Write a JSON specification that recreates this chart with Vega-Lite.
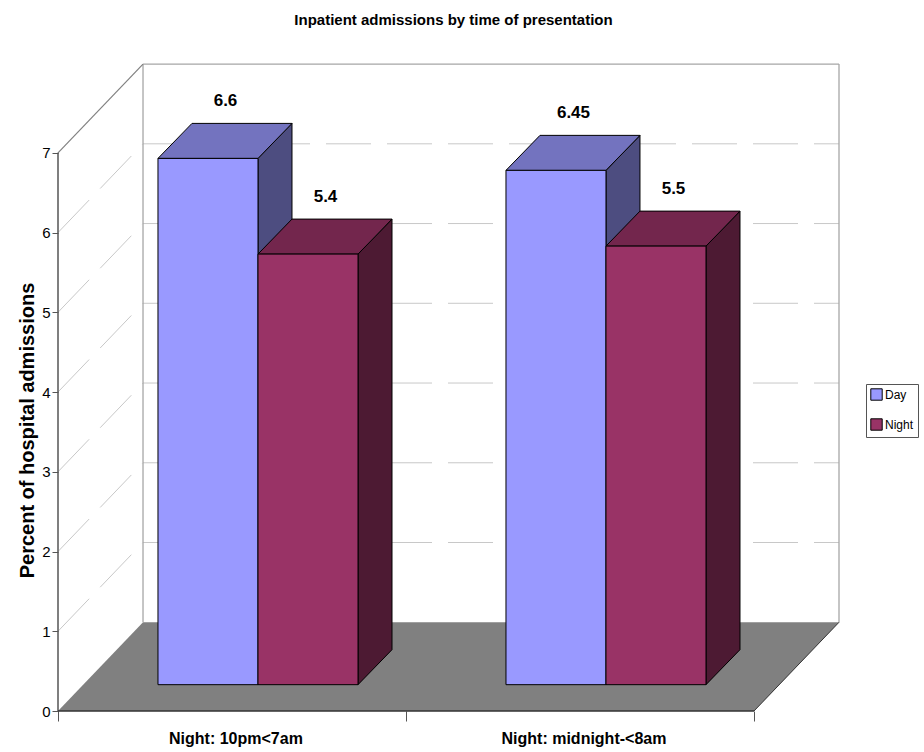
{
  "$schema": "https://vega.github.io/schema/vega-lite/v6.json",
  "description": "Inpatient admissions by time of presentation, drawn as an oblique 3D column chart.",
  "width": 781,
  "height": 647,
  "autosize": "none",
  "padding": {"left": 58, "top": 64, "right": 85, "bottom": 41},
  "background": "white",
  "title": {
    "text": "Inpatient admissions by time of presentation",
    "font": "Liberation Sans",
    "fontSize": 15,
    "fontWeight": "bold",
    "color": "black",
    "anchor": "middle",
    "dx": 5,
    "offset": 35
  },
  "config": {"view": {"stroke": null}},
  "datasets": {
    "admissions": [
      {"category": "Night: 10pm<7am", "series": "Day", "value": 6.6},
      {"category": "Night: 10pm<7am", "series": "Night", "value": 5.4},
      {"category": "Night: midnight-<8am", "series": "Day", "value": 6.45},
      {"category": "Night: midnight-<8am", "series": "Night", "value": 5.5}
    ],
    "levels": [{"level": 1}, {"level": 2}, {"level": 3}, {"level": 4}, {"level": 5}, {"level": 6}],
    "plane": [{"depth": 0}, {"depth": 1}]
  },
  "resolve": {
    "scale": {"color": "independent"},
    "axis": {"x": "independent", "y": "independent"}
  },
  "layer": [
    {
      "data": {"name": "plane"},
      "transform": [
        {"calculate": "datum.depth * 0.2443", "as": "left"},
        {"calculate": "2 + datum.depth * 0.2443", "as": "right"},
        {"calculate": "datum.depth * 1.113", "as": "height"}
      ],
      "mark": {"type": "area", "orient": "horizontal", "fill": "#808080"},
      "encoding": {
        "y": {
          "field": "height", "type": "quantitative",
          "scale": {"domain": [0, 8.114], "range": [647, 0], "nice": false, "zero": false},
          "axis": {
            "orient": "left",
            "values": [0, 1, 2, 3, 4, 5, 6, 7],
            "grid": false,
            "domain": false,
            "tickColor": "#555555",
            "tickSize": 6,
            "labelFont": "Liberation Sans",
            "labelFontSize": 15,
            "labelColor": "black",
            "labelPadding": 2,
            "title": "Percent of hospital admissions",
            "titleFont": "Liberation Sans",
            "titleFontSize": 20,
            "titleFontWeight": "bold",
            "titleColor": "black",
            "titleX": -21,
            "titleY": 366
          }
        },
        "x": {
          "field": "left", "type": "quantitative",
          "scale": {"domain": [0, 2.2443], "range": [0, 781], "nice": false, "zero": false},
          "axis": {
            "orient": "bottom",
            "values": [0, 1, 2],
            "grid": false,
            "domain": false,
            "labels": false,
            "tickColor": "#555555",
            "tickSize": 10,
            "title": null
          }
        },
        "x2": {"field": "right"}
      }
    },
    {
      "data": {"name": "levels"},
      "transform": [{"calculate": "datum.level + 1.113", "as": "back"}],
      "mark": {"type": "rule", "stroke": "#c8c8c8", "strokeWidth": 1, "strokeDash": [45, 16]},
      "encoding": {
        "x": {
          "datum": 0.2443, "type": "quantitative",
          "axis": {
            "orient": "bottom",
            "values": [0.51, 1.51],
            "grid": false,
            "domain": false,
            "ticks": false,
            "labelExpr": "datum.value === 0.51 ? 'Night: 10pm<7am' : 'Night: midnight-<8am'",
            "labelFont": "Liberation Sans",
            "labelFontSize": 16,
            "labelFontWeight": "bold",
            "labelColor": "black",
            "labelPadding": 19,
            "labelOverlap": false,
            "title": null
          }
        },
        "x2": {"datum": 2.2443},
        "y": {"field": "back", "type": "quantitative", "axis": null}
      }
    },
    {
      "data": {"name": "levels"},
      "transform": [{"calculate": "datum.level + 1.113", "as": "back"}],
      "mark": {"type": "rule", "stroke": "#c8c8c8", "strokeWidth": 1, "strokeDash": [45, 16]},
      "encoding": {
        "x": {"datum": 0, "type": "quantitative", "axis": null},
        "x2": {"datum": 0.2443},
        "y": {"field": "level", "type": "quantitative", "axis": null},
        "y2": {"field": "back"}
      }
    },
    {
      "data": {"values": [{}]},
      "mark": {"type": "rule", "stroke": "#a6a6a6", "strokeWidth": 1.3},
      "encoding": {
        "x": {"datum": 0.2443, "type": "quantitative", "axis": null},
        "x2": {"datum": 2.2443},
        "y": {"datum": 8.113, "type": "quantitative", "axis": null}
      }
    },
    {
      "data": {"values": [{}]},
      "mark": {"type": "rule", "stroke": "#a6a6a6", "strokeWidth": 1.3},
      "encoding": {
        "x": {"datum": 0.2443, "type": "quantitative", "axis": null},
        "y": {"datum": 1.113, "type": "quantitative", "axis": null},
        "y2": {"datum": 8.113}
      }
    },
    {
      "data": {"values": [{}]},
      "mark": {"type": "rule", "stroke": "#a6a6a6", "strokeWidth": 1.3},
      "encoding": {
        "x": {"datum": 2.2443, "type": "quantitative", "axis": null},
        "y": {"datum": 1.113, "type": "quantitative", "axis": null},
        "y2": {"datum": 8.113}
      }
    },
    {
      "data": {"values": [{}]},
      "mark": {"type": "rule", "stroke": "#808080", "strokeWidth": 1.2},
      "encoding": {
        "x": {"datum": 0, "type": "quantitative", "axis": null},
        "x2": {"datum": 0.2443},
        "y": {"datum": 7, "type": "quantitative", "axis": null},
        "y2": {"datum": 8.113}
      }
    },
    {
      "data": {"values": [{}]},
      "mark": {"type": "rule", "stroke": "#555555", "strokeWidth": 1.5},
      "encoding": {
        "x": {"datum": 0, "type": "quantitative", "axis": null},
        "y": {"datum": 0, "type": "quantitative", "axis": null},
        "y2": {"datum": 7}
      }
    },
    {
      "data": {"values": [{}]},
      "mark": {"type": "rule", "stroke": "#333333", "strokeWidth": 1.5},
      "encoding": {
        "x": {"datum": 0, "type": "quantitative", "axis": null},
        "x2": {"datum": 2},
        "y": {"datum": 0, "type": "quantitative", "axis": null}
      }
    },
    {
      "data": {"values": [{}]},
      "mark": {"type": "rule", "stroke": "#333333", "strokeWidth": 1},
      "encoding": {
        "x": {"datum": 2, "type": "quantitative", "axis": null},
        "x2": {"datum": 2.2443},
        "y": {"datum": 0, "type": "quantitative", "axis": null},
        "y2": {"datum": 1.113}
      }
    },
    {
      "data": {"name": "admissions"},
      "transform": [
        {"calculate": "indexof(['Night: 10pm<7am', 'Night: midnight-<8am'], datum.category)", "as": "group"},
        {"calculate": "datum.group + 0.2873 + (datum.series === 'Night' ? 0.2874 : 0)", "as": "left"},
        {"calculate": "datum.left + 0.2874", "as": "right"},
        {"calculate": "[0, 1]", "as": "depth"},
        {"flatten": ["depth"]},
        {"calculate": "datum.right + datum.depth * 0.0977", "as": "sideX"},
        {"calculate": "datum.value + 0.33 + datum.depth * 0.439", "as": "sideTop"},
        {"calculate": "0.33 + datum.depth * 0.439", "as": "sideBottom"}
      ],
      "mark": {"type": "area", "orient": "vertical", "stroke": "black", "strokeWidth": 1},
      "encoding": {
        "x": {"field": "sideX", "type": "quantitative", "axis": null},
        "y": {"field": "sideTop", "type": "quantitative", "axis": null},
        "y2": {"field": "sideBottom"},
        "detail": {"field": "left"},
        "color": {
          "field": "series", "type": "nominal", "legend": null,
          "scale": {"domain": ["Day", "Night"], "range": ["#4d4d80", "#4d1a33"]}
        }
      }
    },
    {
      "data": {"name": "admissions"},
      "transform": [
        {"calculate": "indexof(['Night: 10pm<7am', 'Night: midnight-<8am'], datum.category)", "as": "group"},
        {"calculate": "datum.group + 0.2873 + (datum.series === 'Night' ? 0.2874 : 0)", "as": "left"},
        {"calculate": "[0, 1]", "as": "depth"},
        {"flatten": ["depth"]},
        {"calculate": "datum.left + datum.depth * 0.0977", "as": "topLeft"},
        {"calculate": "datum.left + 0.2874 + datum.depth * 0.0977", "as": "topRight"},
        {"calculate": "datum.value + 0.33 + datum.depth * 0.439", "as": "topY"}
      ],
      "mark": {"type": "area", "orient": "horizontal", "stroke": "black", "strokeWidth": 1},
      "encoding": {
        "y": {"field": "topY", "type": "quantitative", "axis": null},
        "x": {"field": "topLeft", "type": "quantitative", "axis": null},
        "x2": {"field": "topRight"},
        "detail": {"field": "left"},
        "color": {
          "field": "series", "type": "nominal", "legend": null,
          "scale": {"domain": ["Day", "Night"], "range": ["#7373bf", "#73264d"]}
        }
      }
    },
    {
      "data": {"name": "admissions"},
      "transform": [
        {"calculate": "indexof(['Night: 10pm<7am', 'Night: midnight-<8am'], datum.category)", "as": "group"},
        {"calculate": "datum.group + 0.2873 + (datum.series === 'Night' ? 0.2874 : 0)", "as": "left"},
        {"calculate": "datum.left + 0.2874", "as": "right"},
        {"calculate": "datum.value + 0.33", "as": "top"},
        {"calculate": "0.33", "as": "bottom"}
      ],
      "mark": {"type": "rect", "stroke": "black", "strokeWidth": 1},
      "encoding": {
        "x": {"field": "left", "type": "quantitative", "axis": null},
        "x2": {"field": "right"},
        "y": {"field": "top", "type": "quantitative", "axis": null},
        "y2": {"field": "bottom"},
        "color": {
          "field": "series", "type": "nominal",
          "scale": {"domain": ["Day", "Night"], "range": ["#9999ff", "#993366"]},
          "legend": {
            "orient": "none",
            "legendX": 808,
            "legendY": 320,
            "title": null,
            "fillColor": "white",
            "strokeColor": "#555555",
            "padding": 4,
            "rowPadding": 13,
            "symbolType": "square",
            "symbolSize": 130,
            "symbolStrokeColor": "black",
            "symbolStrokeWidth": 1,
            "labelFont": "Liberation Sans",
            "labelFontSize": 12,
            "labelColor": "black",
            "labelOffset": 2,
            "columnPadding": 0
          }
        }
      }
    },
    {
      "data": {"name": "admissions"},
      "transform": [
        {"calculate": "indexof(['Night: 10pm<7am', 'Night: midnight-<8am'], datum.category)", "as": "group"},
        {"calculate": "datum.group + 0.2873 + (datum.series === 'Night' ? 0.2874 : 0) + 0.1437 + 0.0503", "as": "labelX"},
        {"calculate": "datum.value + 0.33 + 0.439", "as": "labelY"}
      ],
      "mark": {
        "type": "text",
        "dy": -22,
        "font": "Liberation Sans",
        "fontSize": 17,
        "fontWeight": "bold",
        "color": "black"
      },
      "encoding": {
        "x": {"field": "labelX", "type": "quantitative", "axis": null},
        "y": {"field": "labelY", "type": "quantitative", "axis": null},
        "text": {"field": "value", "type": "quantitative"}
      }
    }
  ]
}
